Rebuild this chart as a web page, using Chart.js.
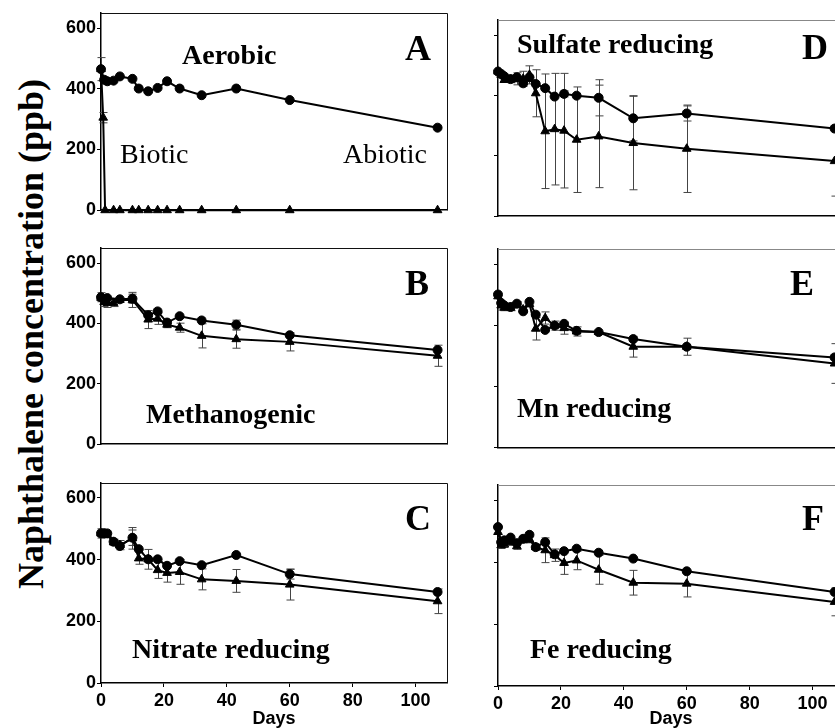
<!DOCTYPE html>
<html><head><meta charset="utf-8">
<script src="https://cdn.jsdelivr.net/npm/chart.js@4"></script>
<style>
html,body{margin:0;padding:0;background:#fff;width:835px;height:728px;overflow:hidden;position:relative}
canvas{position:absolute}
#ytitle{position:absolute;left:-272px;top:316px;width:600px;height:36px;line-height:36px;text-align:center;font:bold 36px 'Liberation Serif',serif;transform:rotate(-90deg);white-space:nowrap;color:#000}
</style></head><body>
<div id="ytitle">Naphthalene concentration (ppb)</div>
<canvas id="cA"></canvas><canvas id="cB"></canvas><canvas id="cC"></canvas>
<canvas id="cD"></canvas><canvas id="cE"></canvas><canvas id="cF"></canvas>
<script>
// ---------- DATA ----------
const xTicks = [0, 20, 40, 60, 80, 100];
const yTicks = [0, 200, 400, 600];
const leftDays  = [0,1,2,4,6,10,12,15,18,21,25,32,43,60,107];
const rightDays = [0,1,2,4,6,8,10,12,15,18,21,25,32,43,60,107];

// A: Aerobic
const aCircDays = leftDays;
const aCirc     = [465,430,425,427,441,433,401,392,403,425,401,379,401,363,272];
const aCircErr  = [38,0,0,0,0,0,0,0,0,0,0,0,0,0,0];
const aTriDays  = [0,0.7,1.3,4,6,10,12,15,18,21,25,32,43,60,107];
const aTri      = [465,305,0,0,0,0,0,0,0,0,0,0,0,0,0];
const aTriErr   = [0,17,0,0,0,0,0,0,0,0,0,0,0,0,0];

// B: Methanogenic
const bCircDays = [0,2,6,10,15,18,21,25,32,43,60,107];
const bCirc     = [487,484,480,482,427,440,403,424,410,396,361,312];
const bCircErr  = [15,0,0,15,0,0,0,0,0,15,0,0];
const bTriDays  = [0,1,2,4,6,10,15,18,21,25,32,43,60,107];
const bTri      = [485,471,468,468,478,478,413,416,396,386,359,348,339,293];
const bTriErr   = [10,15,15,12,0,25,30,19,10,15,40,30,30,35];

// C: Nitrate reducing
const cCirc     = [485,485,485,458,444,471,434,401,401,380,395,382,415,353,295];
const cCircErr  = [10,0,0,0,0,25,0,0,0,0,0,0,0,16,0];
const cTri      = [485,482,480,456,447,469,404,401,366,357,360,336,331,319,265];
const cTriErr   = [15,0,0,10,15,35,19,32,27,30,40,34,37,50,40];

// D: Sulfate reducing
const dCirc     = [479,471,463,454,460,440,460,438,424,396,405,399,392,324,340,290];
const dCircErr  = [0,0,0,0,0,0,0,0,0,0,10,0,60,75,25,0];
const dTri      = [479,468,451,452,455,455,468,407,281,288,283,253,264,242,223,182];
const dTriErr   = [0,10,8,10,20,25,30,78,190,185,190,175,170,155,145,116];

// E: Mn reducing
const eCirc     = [501,473,465,460,471,446,477,435,385,399,405,382,378,355,330,295];
const eCircErr  = [0,0,0,0,0,0,0,0,0,0,0,0,0,0,0,0];
const eTri      = [495,465,458,458,468,452,470,389,424,399,391,380,378,330,330,275];
const eTriErr   = [0,15,10,10,10,10,10,37,20,15,20,15,0,34,28,65];

// F: Fe reducing
const fCirc     = [514,465,471,480,462,476,489,449,465,426,436,444,431,412,371,304];
const fCircErr  = [0,0,0,0,0,0,0,0,0,0,0,0,0,0,0,0];
const fTri      = [498,455,458,465,452,473,473,449,439,423,398,406,376,334,331,272];
const fTriErr   = [0,10,10,10,10,10,10,10,40,20,37,30,47,40,43,45];

// ---------- RENDERING ----------
const SANS = "'Liberation Sans', Arial, sans-serif";
const SERIF = "'Liberation Serif', 'Times New Roman', serif";

function pts(days, vals){ return days.map((d,i)=>({x:d, y:vals[i]})); }

const errorBars = {
  id:'errorBars',
  beforeDatasetsDraw(chart){
    const {ctx, scales:{x,y}} = chart;
    ctx.save();
    ctx.strokeStyle = '#444'; ctx.lineWidth = 1;
    chart.data.datasets.forEach(ds=>{
      (ds.errors||[]).forEach((e,i)=>{
        if(!e) return;
        const p = ds.data[i];
        const px = Math.round(x.getPixelForValue(p.x))+0.5;
        const y1 = y.getPixelForValue(p.y+e), y2 = y.getPixelForValue(Math.max(p.y-e,0));
        ctx.beginPath();
        ctx.moveTo(px,y1); ctx.lineTo(px,y2);
        ctx.moveTo(px-4,y1); ctx.lineTo(px+4,y1);
        ctx.moveTo(px-4,y2); ctx.lineTo(px+4,y2);
        ctx.stroke();
      });
    });
    ctx.restore();
  }
};

const frameAndText = {
  id:'frameAndText',
  afterDraw(chart, args, opts){
    const {ctx, chartArea:a} = chart;
    ctx.save();
    ctx.strokeStyle = opts.frameColor; ctx.lineWidth = 1;
    ctx.beginPath();
    ctx.moveTo(a.left, Math.round(a.top)+0.5); ctx.lineTo(a.right+0.5, Math.round(a.top)+0.5);
    ctx.lineTo(Math.round(a.right)+0.5, a.bottom);
    ctx.stroke();
    ctx.fillStyle = '#000'; ctx.textBaseline = 'alphabetic'; ctx.textAlign = 'left';
    (opts.labels||[]).forEach(l=>{
      ctx.font = l.font;
      ctx.fillText(l.text, l.x - opts.offX, l.y - opts.offY);
    });
    ctx.restore();
  }
};

function makePanel(id, geo, circ, tri, labels, bottomRow, leftCol){
  const cv = document.getElementById(id);
  cv.width = geo.w; cv.height = geo.h;
  cv.style.left = geo.x+'px'; cv.style.top = geo.y+'px';
  cv.style.width = geo.w+'px'; cv.style.height = geo.h+'px';
  const ds = (set, style, r) => ({
    data: set.data, errors: set.err, showLine:true, borderColor:'#000', borderWidth:2,
    pointStyle: style, pointRadius: r, pointBackgroundColor:'#000', pointBorderColor:'#000',
    pointBorderWidth:1, tension:0, clip:false
  });
  new Chart(cv, {
    type:'line',
    data:{ datasets:[ ds(tri,'triangle',5), ds(circ,'circle',4.5) ] },
    options:{
      responsive:false, animation:false, events:[],
      layout:{padding:{left:0, right:geo.pr, top:geo.pt, bottom:geo.pb}},
      plugins:{legend:{display:false}, tooltip:{enabled:false},
        frameAndText:{frameColor: leftCol ? '#111' : '#888', labels, offX:geo.x, offY:geo.y}},
      scales:{
        x:{type:'linear', min:0, max:110,
          afterBuildTicks: s => { s.ticks = xTicks.map(v=>({value:v})); },
          ticks:{display:bottomRow, autoSkip:false, maxRotation:0, padding:3, color:'#000',
                 font:{family:SANS, weight:'bold', size:18}},
          grid:{display:bottomRow, drawOnChartArea:false, tickLength:4, color:'#000', tickColor:'#000'},
          border:{display:true, color:'#000', width:1.5},
          title:{display:bottomRow, text:'Days', color:'#000', padding:0,
                 font:{family:SANS, weight:'bold', size:18, lineHeight:1.0}},
          afterFit: s => { s.height = geo.xh; }
        },
        y:{type:'linear', min:0, max:650,
          afterBuildTicks: s => { s.ticks = yTicks.map(v=>({value:v})); },
          ticks:{display:leftCol, padding:1, color:'#000', font:{family:SANS, weight:'bold', size:18}},
          grid:{display:true, drawOnChartArea:false, tickLength:4, color:'#000', tickColor:'#000'},
          border:{display:true, color:'#000', width:1.5},
          afterFit: s => { s.width = geo.yw; }
        }
      }
    },
    plugins:[errorBars, frameAndText]
  });
}

const B28 = "bold 28px "+SERIF, B36 = "bold 36px "+SERIF, R28 = "28px "+SERIF;

makePanel('cA', {x:45,y:0,w:415,h:222,yw:56,pr:13,pt:13,pb:11,xh:0},
  {data:pts(aCircDays,aCirc), err:aCircErr}, {data:pts(aTriDays,aTri), err:aTriErr},
  [{text:'Aerobic',x:182,y:64,font:B28},{text:'A',x:405,y:60,font:B36},
   {text:'Biotic',x:120,y:163,font:R28},{text:'Abiotic',x:343,y:163,font:R28}], false, true);
makePanel('cB', {x:45,y:236,w:415,h:220,yw:56,pr:13,pt:12,pb:9,xh:0},
  {data:pts(bCircDays,bCirc), err:bCircErr}, {data:pts(bTriDays,bTri), err:bTriErr},
  [{text:'B',x:405,y:295,font:B36},{text:'Methanogenic',x:146,y:423,font:B28}], false, true);
makePanel('cC', {x:45,y:470,w:415,h:258,yw:56,pr:13,pt:12.5,pb:0,xh:45},
  {data:pts(leftDays,cCirc), err:cCircErr}, {data:pts(leftDays,cTri), err:cTriErr},
  [{text:'C',x:405,y:530,font:B36},{text:'Nitrate reducing',x:132,y:658,font:B28}], true, true);
makePanel('cD', {x:450,y:0,w:450,h:222,yw:48,pr:56,pt:20,pb:5,xh:0},
  {data:pts(rightDays,dCirc), err:dCircErr}, {data:pts(rightDays,dTri), err:dTriErr},
  [{text:'Sulfate reducing',x:517,y:53,font:B28},{text:'D',x:802,y:59,font:B36}], false, false);
makePanel('cE', {x:450,y:236,w:450,h:220,yw:48,pr:56,pt:13,pb:8.5,xh:0},
  {data:pts(rightDays,eCirc), err:eCircErr}, {data:pts(rightDays,eTri), err:eTriErr},
  [{text:'E',x:790,y:295,font:B36},{text:'Mn reducing',x:517,y:417,font:B28}], false, false);
makePanel('cF', {x:450,y:470,w:450,h:258,yw:48,pr:56,pt:15,pb:0,xh:42},
  {data:pts(rightDays,fCirc), err:fCircErr}, {data:pts(rightDays,fTri), err:fTriErr},
  [{text:'F',x:802,y:530,font:B36},{text:'Fe reducing',x:530,y:658,font:B28}], true, false);
</script>
</body></html>
